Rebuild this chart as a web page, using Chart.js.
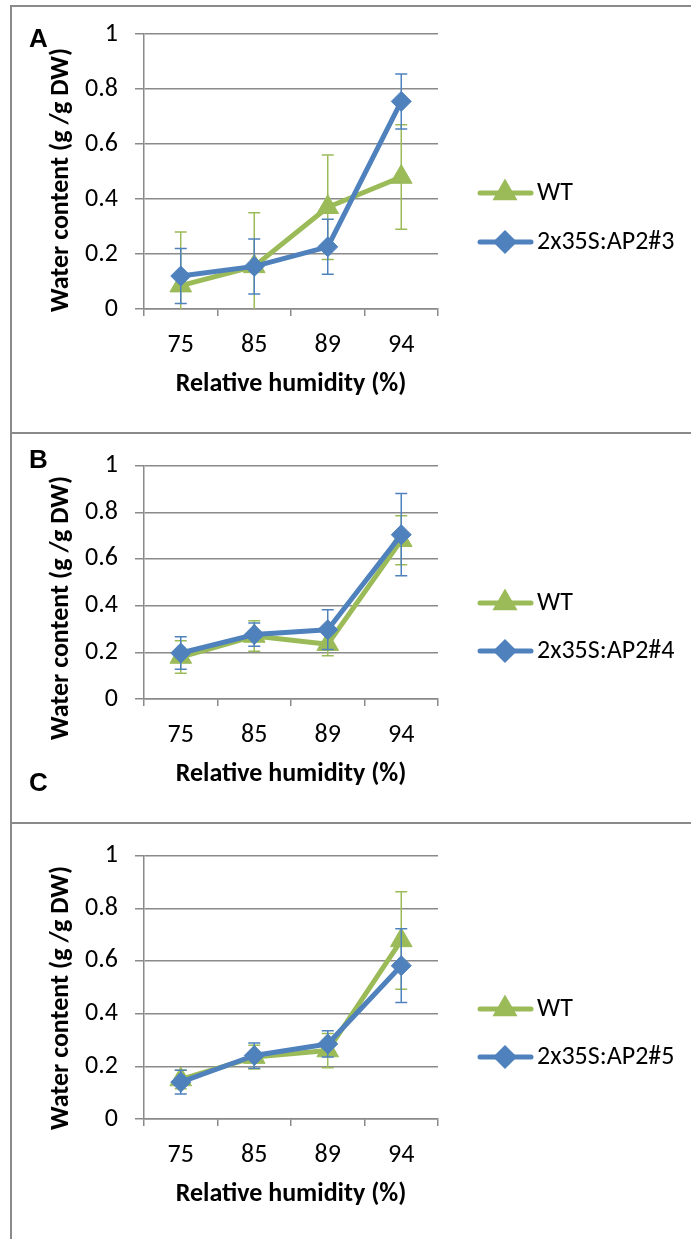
<!DOCTYPE html>
<html lang="en">
<head>
<meta charset="UTF-8">
<title>Water content vs relative humidity</title>
<script src="https://cdn.jsdelivr.net/npm/chart.js"></script>
<style>
    body {margin:0; background:#fff;}
    #wrap {position:relative; width:692px; height:1239px; overflow:hidden;}
    #wrap canvas {position:absolute; left:0;}
    .hline {position:absolute; left:10px; width:681px; height:2px; background:#8a8a8a;}
    .vline {position:absolute; left:10px; top:5px; width:2px; height:1234px; background:#8a8a8a;}
    .tag {position:absolute; left:29px; font:bold 26px "Liberation Sans", Arial, sans-serif; line-height:26px; color:#000;}
</style>
</head>
<body>
<div id="wrap">
    <div class="hline" style="top:5px"></div>
    <div class="hline" style="top:432px"></div>
    <div class="hline" style="top:822px"></div>
    <div class="vline"></div>
    <canvas id="cA" width="692" height="433" style="top:0"></canvas>
    <canvas id="cB" width="692" height="390" style="top:433px"></canvas>
    <canvas id="cC" width="692" height="416" style="top:823px"></canvas>
    <div class="tag" style="top:25px">A</div>
    <div class="tag" style="top:446px">B</div>
    <div class="tag" style="top:769px">C</div>
</div>

<script>
// categories (relative humidity %)
const humidity = ['75', '85', '89', '94'];
const yTicks = [0, 0.2, 0.4, 0.6, 0.8, 1];

// panel A
const wtA = [0.085, 0.155, 0.37, 0.48];
const wtErrA = [0.195, 0.195, 0.19, 0.19];
const ap3 = [0.12, 0.155, 0.226, 0.755];
const ap3Err = [0.10, 0.10, 0.10, 0.10];

// panel B
const wtB = [0.18, 0.27, 0.235, 0.68];
const wtErrB = [0.07, 0.065, 0.05, 0.105];
const ap4 = [0.197, 0.276, 0.297, 0.704];
const ap4Err = [0.07, 0.05, 0.085, 0.176];

// panel C
const wtC = [0.15, 0.235, 0.26, 0.678];
const wtErrC = [0.035, 0.045, 0.065, 0.185];
const ap5 = [0.14, 0.241, 0.285, 0.582];
const ap5Err = [0.045, 0.048, 0.05, 0.14];

const GREEN = '#9bbb59';
const BLUE = '#4f81bd';
const GRID = '#8a8a8a';
const FONT = 'Carlito, Lato, sans-serif';

// layout of each panel (canvas coords)
const panels = [
    {id: 'cA', h: 433, top: 34, bottom: 309, legendY: [193, 242], titleY: 180,
        wt: wtA, wtErr: wtErrA, ap: ap3, apErr: ap3Err, apName: '2x35S:AP2#3'},
    {id: 'cB', h: 390, top: 30, bottom: 266, legendY: [170, 218], titleY: 175,
        wt: wtB, wtErr: wtErrB, ap: ap4, apErr: ap4Err, apName: '2x35S:AP2#4'},
    {id: 'cC', h: 416, top: 30, bottom: 296, legendY: [186, 234], titleY: 175,
        wt: wtC, wtErr: wtErrC, ap: ap5, apErr: ap5Err, apName: '2x35S:AP2#5'}
];

// error bars, drawn just before each series
const errorBars = {
    id: 'errorBars',
    beforeDatasetDraw(chart, args) {
        const ds = chart.data.datasets[args.index];
        const meta = args.meta;
        const y = chart.scales.y;
        const a = chart.chartArea;
        const ctx = chart.ctx;
        ctx.save();
        ctx.beginPath();
        ctx.rect(a.left, a.top - 1, a.right - a.left, a.bottom - a.top + 1);
        ctx.clip();
        ctx.strokeStyle = ds.borderColor;
        ctx.lineWidth = 1.5;
        meta.data.forEach(function (pt, i) {
            const hi = y.getPixelForValue(ds.data[i] + ds.errors[i]);
            const lo = y.getPixelForValue(ds.data[i] - ds.errors[i]);
            ctx.beginPath();
            ctx.moveTo(pt.x, hi); ctx.lineTo(pt.x, lo);
            ctx.moveTo(pt.x - 6, hi); ctx.lineTo(pt.x + 6, hi);
            ctx.moveTo(pt.x - 6, lo); ctx.lineTo(pt.x + 6, lo);
            ctx.stroke();
        });
        ctx.restore();
    }
};

// legend on the right + rotated y title
const sideText = {
    id: 'sideText',
    afterDraw(chart, args, opts) {
        const ctx = chart.ctx;
        ctx.save();
        chart.data.datasets.forEach(function (ds, i) {
            const ly = opts.legendY[i];
            ctx.strokeStyle = ds.borderColor;
            ctx.lineWidth = 5;
            ctx.lineCap = 'round';
            ctx.beginPath();
            ctx.moveTo(480, ly); ctx.lineTo(531, ly);
            ctx.stroke();
            ctx.fillStyle = ds.backgroundColor;
            Chart.helpers.drawPoint(ctx, {pointStyle: ds.pointStyle, radius: ds.pointStyle === 'triangle' ? 9.5 : 8.5,
                borderWidth: 1, rotation: 0}, 505, ly);
            ctx.fill();
            ctx.fillStyle = '#000';
            ctx.font = '26px ' + FONT;
            ctx.textAlign = 'left';
            ctx.textBaseline = 'middle';
            ctx.fillText(ds.label, 537, ly + 0.5);
        });
        ctx.translate(61, opts.titleY);
        ctx.rotate(-Math.PI / 2);
        ctx.font = 'bold 26px ' + FONT;
        ctx.textAlign = 'center';
        ctx.textBaseline = 'middle';
        ctx.fillStyle = '#000';
        ctx.fillText('Water content (g /g DW)', 0, 0);
        ctx.restore();
    }
};

panels.forEach(function (p) {
    new Chart(document.getElementById(p.id), {
        type: 'line',
        data: {
            labels: humidity,
            datasets: [
                {label: 'WT', data: p.wt, errors: p.wtErr, order: 1,
                    borderColor: GREEN, backgroundColor: GREEN, borderWidth: 5,
                    pointStyle: 'triangle', pointRadius: 12.5, pointBorderWidth: 1,
                    pointBackgroundColor: GREEN, pointBorderColor: GREEN},
                {label: p.apName, data: p.ap, errors: p.apErr, order: 0,
                    borderColor: BLUE, backgroundColor: BLUE, borderWidth: 5,
                    pointStyle: 'rectRot', pointRadius: 10, pointBorderWidth: 1,
                    pointBackgroundColor: BLUE, pointBorderColor: BLUE}
            ]
        },
        options: {
            responsive: false,
            animation: false,
            devicePixelRatio: 1,
            layout: {padding: {top: p.top, right: 254, left: 0, bottom: 0}},
            elements: {line: {tension: 0, borderJoinStyle: 'round', borderCapStyle: 'round'}},
            plugins: {
                legend: {display: false},
                tooltip: {enabled: false},
                sideText: {legendY: p.legendY, titleY: p.titleY}
            },
            scales: {
                x: {
                    offset: true,
                    grid: {display: true, offset: true, drawOnChartArea: false, drawTicks: true,
                        tickLength: 7, color: GRID, lineWidth: 1.5},
                    border: {color: GRID, width: 1.5},
                    ticks: {color: '#000', font: {size: 26, family: FONT}, padding: 14},
                    title: {display: true, text: 'Relative humidity (%)', color: '#000',
                        font: {size: 26, weight: 'bold', family: FONT}, padding: {top: 4, bottom: p.h - p.bottom - 91}},
                    afterFit(scale) { scale.height = p.h - p.bottom; }
                },
                y: {
                    min: 0, max: 1,
                    afterBuildTicks(scale) { scale.ticks = yTicks.map(v => ({value: v})); },
                    grid: {color: GRID, lineWidth: 1.5, tickLength: 9},
                    border: {color: GRID, width: 1.5},
                    ticks: {color: '#000', font: {size: 26, family: FONT}, padding: 17,
                        callback: v => String(Number(v.toFixed(1)))},
                    afterFit(scale) { scale.width = 144; }
                }
            }
        },
        plugins: [errorBars, sideText]
    });
});
</script>
</body>
</html>
